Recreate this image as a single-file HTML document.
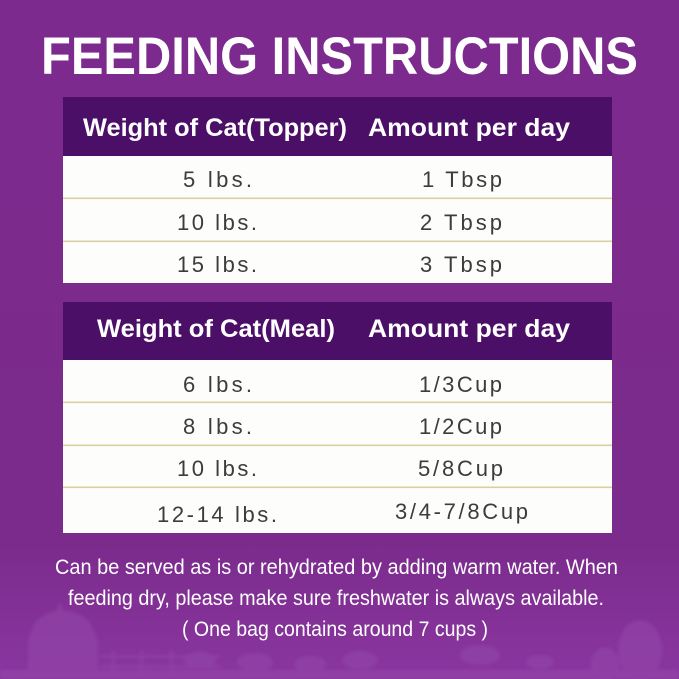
<!DOCTYPE html>
<html>
<head>
<meta charset="utf-8">
<style>
html,body{margin:0;padding:0;background:#7b2b8c;}
svg{display:block;}
</style>
</head>
<body>
<svg width="679" height="679" viewBox="0 0 679 679" xmlns="http://www.w3.org/2000/svg">
  <defs>
    <linearGradient id="bg" x1="0" y1="0" x2="0" y2="1">
      <stop offset="0" stop-color="#7c2a8d"/>
      <stop offset="0.8" stop-color="#7b2b8c"/>
      <stop offset="1" stop-color="#8a36a0"/>
    </linearGradient>
    <filter id="soft" x="-10%" y="-10%" width="120%" height="120%">
      <feGaussianBlur stdDeviation="1.5"/>
    </filter>
  </defs>
  <rect x="0" y="0" width="679" height="679" fill="url(#bg)"/>

  <!-- farm silhouettes -->
  <g fill="#9347a8" opacity="0.6" filter="url(#soft)">
    <path d="M28 679 L28 640 L35 622 Q62 598 90 622 L98 640 L98 679 Z"/>
    <rect x="58" y="604" width="4" height="10"/>
    <rect x="100" y="655" width="120" height="3"/>
    <rect x="100" y="665" width="120" height="3"/>
    <rect x="112" y="650" width="3" height="29"/>
    <rect x="140" y="650" width="3" height="29"/>
    <rect x="170" y="650" width="3" height="29"/>
    <ellipse cx="200" cy="660" rx="16" ry="8"/>
    <ellipse cx="255" cy="662" rx="18" ry="9"/>
    <ellipse cx="310" cy="664" rx="16" ry="8"/>
    <ellipse cx="360" cy="660" rx="18" ry="9"/>
    <ellipse cx="480" cy="655" rx="20" ry="10"/>
    <ellipse cx="540" cy="662" rx="14" ry="7"/>
    <ellipse cx="640" cy="650" rx="22" ry="30"/>
    <ellipse cx="605" cy="665" rx="14" ry="18"/>
    <rect x="0" y="670" width="679" height="9"/>
  </g>

  <!-- title -->
  <text x="41" y="74" font-family="'Liberation Sans Narrow','Liberation Sans',sans-serif" font-weight="bold" font-size="53" fill="#ffffff" textLength="597" lengthAdjust="spacingAndGlyphs">FEEDING INSTRUCTIONS</text>

  <!-- table 1 -->
  <rect x="63" y="97" width="549" height="59" fill="#4b0f67"/>
  <rect x="63" y="156" width="549" height="127" fill="#fdfdfc"/>
  <rect x="63" y="197.5" width="549" height="1.6" fill="#dccf9f"/>
  <rect x="63" y="240.5" width="549" height="1.6" fill="#dccf9f"/>
  <g font-family="'Liberation Sans',sans-serif" font-weight="bold" font-size="25" fill="#ffffff">
    <text x="83" y="136" textLength="264" lengthAdjust="spacingAndGlyphs">Weight of Cat(Topper)</text>
    <text x="368" y="136" textLength="202" lengthAdjust="spacingAndGlyphs">Amount per day</text>
  </g>
  <g font-family="'Liberation Sans',sans-serif" font-size="22" fill="#3c3c3c">
    <text x="183" y="187" textLength="69">5 lbs.</text>
    <text x="422" y="187" textLength="80">1 Tbsp</text>
    <text x="177" y="230" textLength="80">10 lbs.</text>
    <text x="420" y="230" textLength="82">2 Tbsp</text>
    <text x="177" y="272" textLength="80">15 lbs.</text>
    <text x="420" y="272" textLength="82">3 Tbsp</text>
  </g>

  <!-- table 2 -->
  <rect x="63" y="302" width="549" height="58" fill="#4b0f67"/>
  <rect x="63" y="360" width="549" height="173" fill="#fdfdfc"/>
  <rect x="63" y="401.5" width="549" height="1.6" fill="#dccf9f"/>
  <rect x="63" y="444.5" width="549" height="1.6" fill="#dccf9f"/>
  <rect x="63" y="486.5" width="549" height="1.6" fill="#dccf9f"/>
  <g font-family="'Liberation Sans',sans-serif" font-weight="bold" font-size="25" fill="#ffffff">
    <text x="97" y="337" textLength="238" lengthAdjust="spacingAndGlyphs">Weight of Cat(Meal)</text>
    <text x="368" y="337" textLength="202" lengthAdjust="spacingAndGlyphs">Amount per day</text>
  </g>
  <g font-family="'Liberation Sans',sans-serif" font-size="22" fill="#3c3c3c">
    <text x="183" y="392" textLength="69">6 lbs.</text>
    <text x="419" y="392" textLength="83">1/3Cup</text>
    <text x="183" y="434" textLength="69">8 lbs.</text>
    <text x="419" y="434" textLength="83">1/2Cup</text>
    <text x="177" y="476" textLength="80">10 lbs.</text>
    <text x="418" y="476" textLength="85">5/8Cup</text>
    <text x="157" y="522" textLength="120">12-14 lbs.</text>
    <text x="395" y="519" textLength="133">3/4-7/8Cup</text>
  </g>

  <!-- footer text -->
  <g font-family="'Liberation Sans',sans-serif" font-size="21" fill="#ffffff">
    <text x="55" y="574" textLength="563" lengthAdjust="spacingAndGlyphs">Can be served as is or rehydrated by adding warm water. When</text>
    <text x="68" y="605" textLength="536" lengthAdjust="spacingAndGlyphs">feeding dry, please make sure freshwater is always available.</text>
    <text x="182" y="636" textLength="306" lengthAdjust="spacingAndGlyphs">( One bag contains around 7 cups )</text>
  </g>
</svg>
</body>
</html>
